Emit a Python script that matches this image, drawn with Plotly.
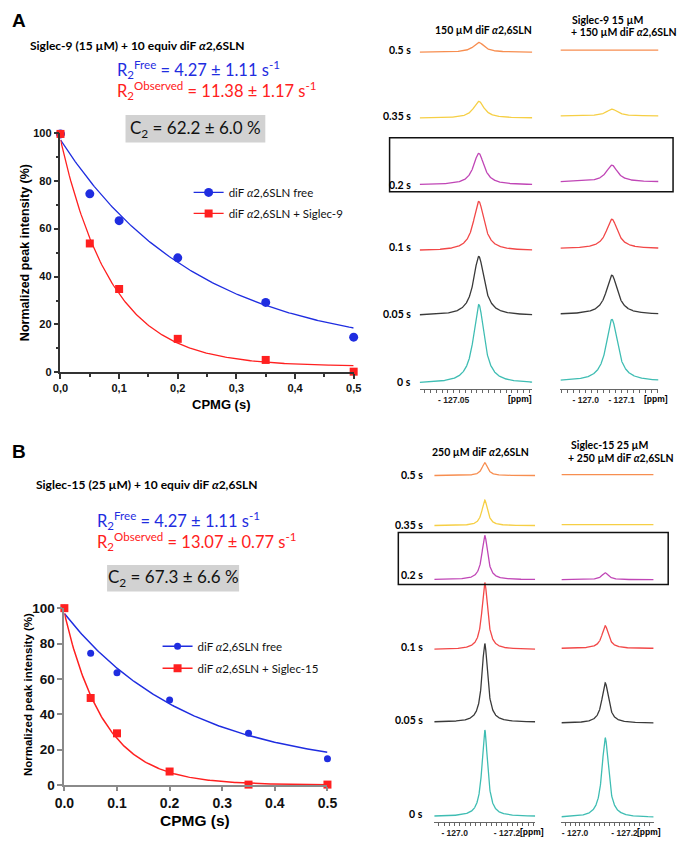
import numpy as np
import plotly.graph_objects as go

# ---------------- DATA ----------------
cpmg_t = [0.0, 0.05, 0.1, 0.2, 0.35, 0.5]
A_free = [99.5, 74.5, 63.3, 47.8, 29.2, 14.7]
A_bound = [99.5, 53.8, 34.8, 14.0, 5.2, 0.3]
B_free = [100.0, 74.5, 63.4, 48.0, 29.3, 14.8]
B_bound = [100.0, 49.2, 29.2, 7.6, 0.2, 0.2]

R2_free = [4.27, 4.27]
R2_free_err = [1.11, 1.11]
R2_obs = [11.38, 13.07]
R2_obs_err = [1.17, 0.77]
C2 = [62.2, 67.3]
C2_err = [6.0, 6.6]
# fit amplitude / plateau (A*exp(-R2 t)+C)
fit_free_amp = [89.0, 89.0]
fit_free_off = [8.0, 8.0]
fit_obs_amp = [94.5, 97.0]
fit_obs_off = [2.5, 0.0]

x_ticks = [0.0, 0.1, 0.2, 0.3, 0.4, 0.5]
x_ticktext_A = ["0,0", "0,1", "0,2", "0,3", "0,4", "0,5"]
x_ticktext_B = ["0.0", "0.1", "0.2", "0.3", "0.4", "0.5"]
y_ticks = [0, 20, 40, 60, 80, 100]

# spectra: peak intensities per CPMG delay (0, 0.05, 0.1, 0.2, 0.35, 0.5 s)
row_labels = ["0 s", "0.05 s", "0.1 s", "0.2 s", "0.35 s", "0.5 s"]
specA_free = [80, 60, 50, 32, 17, 10]
specA_bound = [63, 40, 30, 17, 7, 0]
specB_free = [88, 80, 68, 45, 26, 13]
specB_bound = [81, 41, 23, 7, 0, 0]
peak_center = {"A_free": 127.12, "A_bound": 127.073, "B_free": 127.115, "B_bound": 127.122}
peak_hwhm = {"A_free": 0.018, "A_bound": 0.019, "B_free": 0.013, "B_bound": 0.016}

# ---------------- STYLE / LAYOUT ----------------
W, H = 685, 846
def px(x):
    return x / W
def py(y):
    return 1 - y / H

BLUE = "#1f2de0"
RED = "#ff2020"
row_colors = ["#3fbdb3", "#3a3a3a", "#f24848", "#c046b6", "#f6cf45", "#f78e50"]
CAL = "Lato"
ARI = "Liberation Sans"

fig = go.Figure()

# ---------- scatter panels ----------
panels = [
    dict(xa="x", ya="y", free=A_free, bound=A_bound, i=0, legend="legend",
         ms_c=9, ms_s=8, lw=1.3, siglec="Siglec-9"),
    dict(xa="x2", ya="y2", free=B_free, bound=B_bound, i=1, legend="legend2",
         ms_c=7, ms_s=8, lw=1.5, siglec="Siglec-15"),
]
tfit = np.linspace(0, 0.5, 200)
for p in panels:
    i = p["i"]
    yf = fit_free_amp[i] * np.exp(-R2_free[i] * tfit) + fit_free_off[i]
    yo = fit_obs_amp[i] * np.exp(-R2_obs[i] * tfit) + fit_obs_off[i]
    fig.add_trace(go.Scatter(x=tfit, y=yf, mode="lines", line=dict(color=BLUE, width=p["lw"]),
                             xaxis=p["xa"], yaxis=p["ya"], showlegend=False, hoverinfo="skip"))
    fig.add_trace(go.Scatter(x=tfit, y=yo, mode="lines", line=dict(color=RED, width=p["lw"]),
                             xaxis=p["xa"], yaxis=p["ya"], showlegend=False, hoverinfo="skip"))
    fig.add_trace(go.Scatter(x=cpmg_t, y=p["free"], mode="markers",
                             marker=dict(color=BLUE, size=p["ms_c"], symbol="circle"),
                             xaxis=p["xa"], yaxis=p["ya"], showlegend=False, cliponaxis=False))
    fig.add_trace(go.Scatter(x=cpmg_t, y=p["bound"], mode="markers",
                             marker=dict(color=RED, size=p["ms_s"], symbol="square"),
                             xaxis=p["xa"], yaxis=p["ya"], showlegend=False, cliponaxis=False))
    # legend-only entries
    fig.add_trace(go.Scatter(x=[None], y=[None], mode="lines+markers", name="diF <i>α</i>2,6SLN free",
                             marker=dict(color=BLUE, size=p["ms_c"], symbol="circle"),
                             line=dict(color=BLUE, width=p["lw"]), xaxis=p["xa"], yaxis=p["ya"],
                             legend=p["legend"], legendgroup=f"f{i}"))
    fig.add_trace(go.Scatter(x=[None], y=[None], mode="lines+markers",
                             name=f"diF <i>α</i>2,6SLN + {p['siglec']}",
                             marker=dict(color=RED, size=p["ms_s"], symbol="square"),
                             line=dict(color=RED, width=p["lw"]), xaxis=p["xa"], yaxis=p["ya"],
                             legend=p["legend"], legendgroup=f"b{i}"))

# ---------- spectra ----------
spec_blocks = [
    dict(key="A_free", data=specA_free, n=3, yblk=(0, 389), xd=(422, 538),
         rng=(126.9554, 127.2689), tv=[127.05], tt=["- 127.05"], mdt=0.0162,
         base=[383, 314, 248, 181, 113, 46]),
    dict(key="A_bound", data=specA_bound, n=4, yblk=(0, 389), xd=(567, 668),
         rng=(126.9297, 127.2027), tv=[127.0, 127.1], tt=["- 127.0", "- 127.1"], mdt=0.0167,
         base=[381, 313, 246, 178, 111, 44]),
    dict(key="B_free", data=specB_free, n=5, yblk=(440, 830), xd=(437, 541),
         rng=(126.9222, 127.3074), tv=[127.0, 127.2], tt=["- 127.0", "- 127.2"], mdt=0.02,
         base=[824, 728, 654, 583, 528, 477]),
    dict(key="B_bound", data=specB_bound, n=6, yblk=(440, 830), xd=(568, 663),
         rng=(126.9451, 127.3176), tv=[127.0, 127.2], tt=["- 127.0", "- 127.2"], mdt=0.02,
         base=[825, 729, 653, 583, 527, 476]),
]
layout_axes = {}
for b in spec_blocks:
    xs = np.linspace(b["rng"][0], b["rng"][1], 500)
    c = peak_center[b["key"]]
    g = peak_hwhm[b["key"]]
    shape = g**2 / ((xs - c) ** 2 + g**2)
    for r, amp in enumerate(b["data"]):
        ys = b["base"][r] - amp * shape
        fig.add_trace(go.Scatter(x=xs, y=ys, mode="lines", line=dict(color=row_colors[r], width=1.3),
                                 xaxis=f"x{b['n']}", yaxis=f"y{b['n']}", showlegend=False,
                                 hoverinfo="skip"))
    layout_axes[f"xaxis{b['n']}"] = dict(
        domain=[px(b["xd"][0]), px(b["xd"][1])], range=list(b["rng"]), anchor=f"y{b['n']}",
        showgrid=False, zeroline=False, showline=True, linecolor="#666", linewidth=1,
        ticks="outside", ticklen=3, tickcolor="#666", tickwidth=1,
        tickvals=b["tv"], ticktext=b["tt"],
        tickfont=dict(family=ARI, size=8.5, color="#222", weight="bold"),
        minor=dict(ticks="outside", ticklen=3, tickcolor="#666", dtick=b["mdt"], tick0=b["tv"][0]),
    )
    layout_axes[f"yaxis{b['n']}"] = dict(
        domain=[py(b["yblk"][1]), py(b["yblk"][0])], range=[b["yblk"][1], b["yblk"][0]],
        anchor=f"x{b['n']}", visible=False,
    )

# ---------- annotations ----------
ann = []
def txt(x, y, s, size, color="#000", family=CAL, bold=False, xanchor="left", yanchor="middle", angle=0):
    ann.append(dict(x=px(x), y=py(y), xref="paper", yref="paper", text=s, showarrow=False,
                    xanchor=xanchor, yanchor=yanchor, textangle=angle,
                    font=dict(size=size, color=color, family=family, weight="bold" if bold else "normal")))

# panel letters and titles
txt(0, 14, "A", 19, family=ARI, bold=True)
txt(0, 453, "B", 19, family=ARI, bold=True)
txt(19, 39, "Siglec-9 (15 µM) + 10 equiv diF <i>α</i>2,6SLN", 12, bold=True)
txt(25, 486, "Siglec-15 (25 µM) + 10 equiv diF <i>α</i>2,6SLN", 12, bold=True)

r2_pos = [(108, 64, 85), (88, 523, 544)]
for i, (x0, yf, yo) in enumerate(r2_pos):
    txt(x0, yf, f"R<sub>2</sub><sup>Free</sup> = {R2_free[i]:.2f} ± {R2_free_err[i]:.2f} s<sup>-1</sup>",
        16.5, color=BLUE)
    txt(x0, yo, f"R<sub>2</sub><sup>Observed</sup> = {R2_obs[i]:.2f} ± {R2_obs_err[i]:.2f} s<sup>-1</sup>",
        16.5, color=RED)

shapes = []
c2_box = [(119, 263, 110, 138), (100, 236, 568, 595)]
for i, (x0, x1, y0, y1) in enumerate(c2_box):
    shapes.append(dict(type="rect", xref="paper", yref="paper", x0=px(x0), x1=px(x1), y0=py(y1), y1=py(y0),
                       fillcolor="#d2d2d2", line=dict(width=0), layer="below"))
    txt((x0 + x1) / 2, (y0 + y1) / 2, f"C<sub>2</sub> = {C2[i]:.1f} ± {C2_err[i]:.1f} %", 17,
        color="#111", xanchor="center")

# axis titles for scatter plots
txt(15, 250, "Normalized peak intensity (%)", 12.5, family=ARI, bold=True, xanchor="center", angle=-90)
txt(218, 405, "CPMG (s)", 13, family=ARI, bold=True, xanchor="center")
txt(18, 700, "Normalized peak intensity (%)", 11.5, family=ARI, bold=True, xanchor="center", angle=-90)
txt(191, 828, "CPMG (s)", 15.5, family=ARI, bold=True, xanchor="center")

# spectra headers
txt(488, 23, "150 µM diF <i>α</i>2,6SLN", 10.5, bold=True, xanchor="center")
txt(577, 13, "Siglec-9 15 µM", 10.5, bold=True)
txt(576, 25, "+ 150 µM diF <i>α</i>2,6SLN", 10.5, bold=True)
txt(485, 453, "250 µM diF <i>α</i>2,6SLN", 10.5, bold=True, xanchor="center")
txt(576, 446, "Siglec-15 25 µM", 10.5, bold=True)
txt(573, 459, "+ 250 µM diF <i>α</i>2,6SLN", 10.5, bold=True)

# row labels
rowA_y = [382, 313, 244, 181, 111, 44]
rowB_y = [822, 726, 652, 578, 527, 476]
for r, lab in enumerate(row_labels):
    txt(415, rowA_y[r], lab, 10.5, bold=True, xanchor="right")
    txt(427, rowB_y[r], lab, 10.5, bold=True, xanchor="right")

# ppm units
for (x, y) in [(525, 399), (665, 399), (538, 840), (658, 840)]:
    txt(x, y, "[ppm]", 8.5, family=ARI, bold=True, xanchor="center")

# highlight boxes for 0.2 s
for (x0, x1, y0, y1) in [(391, 683, 133, 188), (400, 678, 535, 588)]:
    shapes.append(dict(type="rect", xref="paper", yref="paper", x0=px(x0), x1=px(x1), y0=py(y1), y1=py(y0),
                       line=dict(color="#111", width=1.5), fillcolor="rgba(0,0,0,0)"))

fig.update_layout(
    width=W, height=H, margin=dict(l=0, r=0, t=0, b=0),
    paper_bgcolor="white", plot_bgcolor="rgba(0,0,0,0)",
    xaxis=dict(domain=[px(52), px(354)], range=[0, 0.5], anchor="y", showgrid=False, zeroline=False,
               showline=True, linecolor="#333", linewidth=1.5, ticks="outside", ticklen=5, tickwidth=1.5,
               tickcolor="#333", tickvals=x_ticks, ticktext=x_ticktext_A,
               tickfont=dict(family=ARI, size=11, color="#111", weight="bold"),
               minor=dict(ticks="outside", ticklen=3, dtick=0.05, tick0=0, tickcolor="#333")),
    yaxis=dict(domain=[py(372), py(128)], range=[0, 100], anchor="x", showgrid=False, zeroline=False,
               showline=True, linecolor="#333", linewidth=1.5, ticks="outside", ticklen=5, tickwidth=1.5,
               tickcolor="#333", tickvals=y_ticks,
               tickfont=dict(family=ARI, size=11, color="#111", weight="bold"),
               minor=dict(ticks="outside", ticklen=3, dtick=10, tick0=0, tickcolor="#333")),
    xaxis2=dict(domain=[px(56), px(327)], range=[0, 0.5], anchor="y2", showgrid=False, zeroline=False,
                showline=True, linecolor="#8a8a8a", linewidth=2, ticks="outside", ticklen=4, tickwidth=2,
                tickcolor="#8a8a8a", tickvals=x_ticks, ticktext=x_ticktext_B,
                tickfont=dict(family=ARI, size=14, color="#111", weight="bold")),
    yaxis2=dict(domain=[py(792), py(612)], range=[0, 100], anchor="x2", showgrid=False, zeroline=False,
                showline=True, linecolor="#8a8a8a", linewidth=2, ticks="outside", ticklen=5, tickwidth=2,
                tickcolor="#8a8a8a", tickvals=y_ticks,
                tickfont=dict(family=ARI, size=13.5, color="#111", weight="bold")),
    legend=dict(x=px(184), y=py(174), xanchor="left", yanchor="top", bgcolor="rgba(0,0,0,0)",
                font=dict(family=CAL, size=11.5, color="#111"), tracegroupgap=2, itemclick=False),
    legend2=dict(x=px(152), y=py(636), xanchor="left", yanchor="top", bgcolor="rgba(0,0,0,0)",
                 font=dict(family=CAL, size=11.5, color="#111"), tracegroupgap=3, itemclick=False),
    annotations=ann, shapes=shapes,
)
fig.update_layout(**layout_axes)
fig.write_html("out.html", config={"displayModeBar": False},
               post_script="document.body.style.margin='0px';document.body.style.overflow='hidden';")
